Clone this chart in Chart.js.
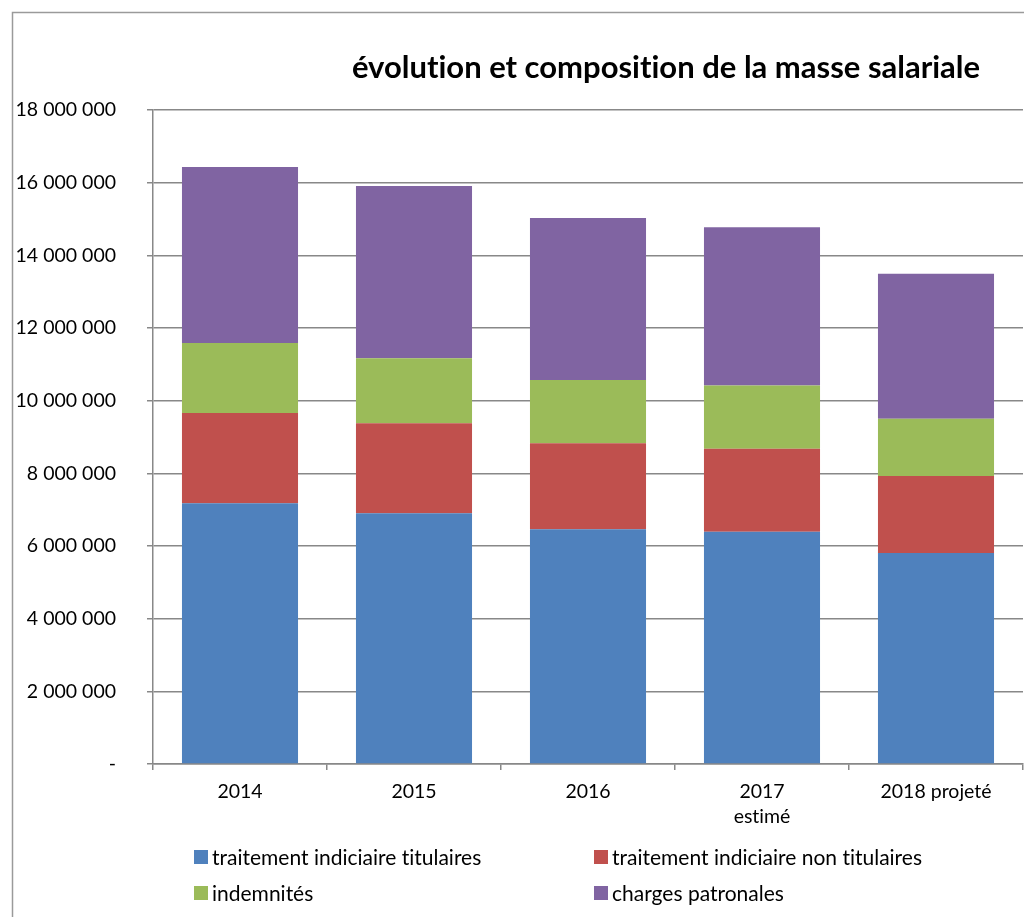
<!DOCTYPE html>
<html>
<head>
<meta charset="utf-8">
<script src="https://cdn.jsdelivr.net/npm/chart.js@4/dist/chart.umd.min.js"></script>
<style>
  html, body { margin: 0; padding: 0; background: #fff; }
  #wrap { position: relative; width: 1024px; height: 917px; }
</style>
</head>
<body>
<div id="wrap"><canvas id="c" width="1024" height="917"></canvas></div>
<script>
const categories = ['2014', '2015', '2016', ['2017', 'estimé'], '2018 projeté'];
const titulaires = [7180000, 6900000, 6460000, 6390000, 5810000];
const nonTitulaires = [2480000, 2480000, 2370000, 2290000, 2120000];
const indemnites = [1930000, 1790000, 1740000, 1740000, 1570000];
const chargesPatronales = [4840000, 4740000, 4460000, 4350000, 3990000];
const seriesNames = ['traitement indiciaire titulaires', 'traitement indiciaire non titulaires', 'indemnités', 'charges patronales'];
const chartTitle = 'évolution et composition de la masse salariale';
const yTicks = { min: 0, max: 18000000, step: 2000000 };

const colors = ['#4F81BD', '#C0504D', '#9BBB59', '#8064A2'];
const FONT = 'Lato, "Open Sans", sans-serif';

function fmt(v) {
  if (v === 0) return '-';
  return String(v).replace(/\B(?=(\d{3})+(?!\d))/g, ' ');
}

const decor = {
  id: 'decor',
  beforeDraw(chart) {
    try { chart.ctx.textRendering = 'optimizeSpeed'; } catch (e) {}
  },
  afterDraw(chart) {
    const ctx = chart.ctx;
    ctx.save();
    try { ctx.textRendering = 'optimizeSpeed'; } catch (e) {}
    // frame
    ctx.strokeStyle = '#9a9a9a';
    ctx.lineWidth = 1.5;
    ctx.beginPath();
    ctx.moveTo(12.5, 940);
    ctx.lineTo(12.5, 12.5);
    ctx.lineTo(1040, 12.5);
    ctx.stroke();
    // title
    ctx.fillStyle = '#000';
    ctx.font = 'bold 31px ' + FONT;
    ctx.textAlign = 'center';
    ctx.textBaseline = 'middle';
    ctx.fillText(chartTitle, 666, 68);
    // legend
    ctx.font = '21px ' + FONT;
    ctx.textAlign = 'left';
    const pos = [[194, 857], [594, 857], [194, 893], [594, 893]];
    chart.data.datasets.forEach((ds, i) => {
      const [x, y] = pos[i];
      ctx.fillStyle = ds.backgroundColor;
      ctx.fillRect(x, y - 7, 14, 14);
      ctx.fillStyle = '#000';
      ctx.fillText(ds.label, x + 18, y + 1);
    });
    ctx.restore();
  }
};

new Chart(document.getElementById('c'), {
  type: 'bar',
  data: {
    labels: categories,
    datasets: [
      { label: seriesNames[0], data: titulaires, backgroundColor: colors[0] },
      { label: seriesNames[1], data: nonTitulaires, backgroundColor: colors[1] },
      { label: seriesNames[2], data: indemnites, backgroundColor: colors[2] },
      { label: seriesNames[3], data: chargesPatronales, backgroundColor: colors[3] }
    ]
  },
  options: {
    responsive: false,
    animation: false,
    devicePixelRatio: 1,
    layout: { padding: { top: 110, right: 1, bottom: 73, left: 0 } },
    datasets: { bar: { categoryPercentage: 1, barPercentage: 0.667, borderWidth: 0 } },
    plugins: { legend: { display: false }, title: { display: false }, tooltip: { enabled: false } },
    scales: {
      x: {
        stacked: true,
        afterFit(s) { s.height = 80; },
        border: { display: true, color: '#888', width: 1.5 },
        grid: { drawOnChartArea: false, drawTicks: true, tickLength: 6, color: '#888', lineWidth: 1.5, offset: true },
        ticks: { color: '#000', padding: 9, font: { family: FONT, size: 19.5, lineHeight: 1.3 }, maxRotation: 0 }
      },
      y: {
        stacked: true,
        min: yTicks.min,
        max: yTicks.max,
        afterFit(s) { s.width = 153; },
        border: { display: true, color: '#888', width: 1.5 },
        grid: { color: '#888', lineWidth: 1.5, tickLength: 6, drawTicks: true },
        ticks: { stepSize: yTicks.step, color: '#000', padding: 31, font: { family: FONT, size: 19.5 }, callback: v => fmt(v) }
      }
    }
  },
  plugins: [decor]
});
</script>
</body>
</html>
